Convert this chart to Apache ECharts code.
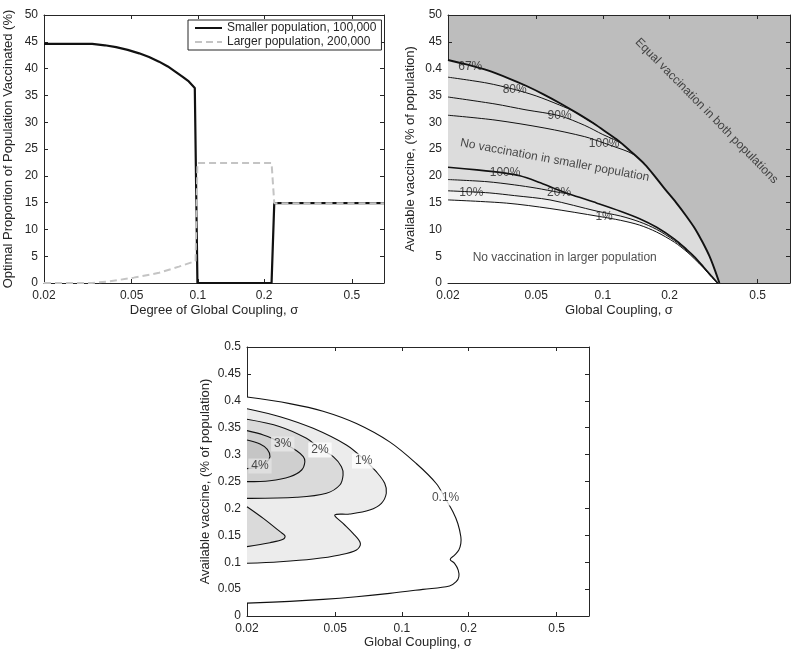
<!DOCTYPE html>
<html><head><meta charset="utf-8">
<script src="https://cdn.jsdelivr.net/npm/echarts@6/dist/echarts.min.js"></script>
<style>html,body{margin:0;padding:0;background:#fff}#c{width:792px;height:660px}</style>
</head><body><div id="c"></div>
<script>
// ---------- shared axis data ----------
const sigmaMin = 0.02, sigmaMax = 0.7;
const xTickValues = [0.02, 0.05, 0.1, 0.2, 0.5];
const xTickLabels = ['0.02', '0.05', '0.1', '0.2', '0.5'];

// ---------- panel A: optimal proportion vaccinated ----------
const p1YTickValues = [0, 5, 10, 15, 20, 25, 30, 35, 40, 45, 50];
const p1YTickLabels = ['0', '5', '10', '15', '20', '25', '30', '35', '40', '45', '50'];
const smallerSigma = [0.02, 0.0331, 0.0378, 0.0425, 0.048, 0.0541, 0.06, 0.0666, 0.073, 0.0792, 0.085, 0.0909, 0.0968, 0.0995, 0.216, 0.2222, 0.7];
const smallerPct   = [44.6, 44.6,   44.35,  44.0,   43.5,  42.85,  42.15, 41.3,   40.4,  39.4,   38.5,  37.6,   36.4,   0,      0,     14.9,   14.9];
const largerSigma  = [0.02, 0.033, 0.0396, 0.0511, 0.0666, 0.082, 0.0976, 0.0995, 0.216, 0.2222, 0.7];
const largerPct    = [0,    0,     0.3,    1.0,    1.9,    3.05,  4.1,    22.4,   22.4,  14.9,   14.9];
const seriesNames = ['Smaller population, 100,000', 'Larger population, 200,000'];

// ---------- panel B: vaccine split regions ----------
const p2YTickValues = [0, 5, 10, 15, 20, 25, 30, 35, 40, 45, 50];
const p2YTickLabels = ['0', '5', '10', '15', '20', '25', '30', '35', '0.4', '45', '50'];
const p2Boundary67 = [[0.02,41.6],[0.0252,40.6],[0.03,39.7],[0.038,38.1],[0.045,36.8],[0.054,35.2],[0.065,33.4],[0.0765,31.7],[0.09,29.9],[0.1,28.6],[0.118,26.5],[0.135,24.4],[0.155,22.1],[0.1711,20.0],[0.19,17.6],[0.2143,15.0],[0.238,12.5],[0.262,10.0],[0.283,7.5],[0.303,5.0],[0.32,2.5],[0.336,0]];
const p2Upper80 = [[0.02,38.4],[0.03,37.3],[0.04,36.1],[0.05,34.9],[0.0638,33.2],[0.075,31.9],[0.085,30.5],[0.092,29.7]];
const p2Upper90 = [[0.02,34.7],[0.0326,33.4],[0.045,32.3],[0.0638,31.2],[0.0829,29.4],[0.1,27.7],[0.112,26.8],[0.122,26.0]];
const p2Upper100 = [[0.02,31.3],[0.0326,30.4],[0.0548,28.9],[0.0829,27.3],[0.1014,26.1],[0.117,25.2],[0.13,24.5],[0.14,23.8]];
const p2Lower100 = [[0.02,21.6],[0.027,21.1],[0.0362,20.5],[0.0422,20.0],[0.05,19.0],[0.06,17.7],[0.0706,16.6],[0.0941,14.9],[0.12,13.4],[0.1466,12.0],[0.175,10.4],[0.2107,8.2],[0.24,6.2],[0.2593,4.9],[0.285,3.0],[0.308,1.4],[0.33,0]];
const p2Lower20 = [[0.02,19.3],[0.03,18.9],[0.04,18.3],[0.05,17.7],[0.0635,16.9],[0.0706,16.6]];
const p2Lower10 = [[0.02,17.2],[0.0255,17.0],[0.0309,16.8],[0.04,16.3],[0.0577,15.5],[0.0941,13.4],[0.12,12.5],[0.1466,11.4],[0.175,10.0],[0.2107,7.9],[0.24,6.0],[0.2593,4.7],[0.285,2.9],[0.308,1.3],[0.33,0]];
const p2Lower1 = [[0.02,15.5],[0.0368,14.9],[0.0577,13.9],[0.0967,12.4],[0.12,11.7],[0.1466,10.8],[0.175,9.5],[0.2107,7.6],[0.24,5.8],[0.2593,4.5],[0.285,2.8],[0.308,1.2],[0.33,0]];
const p2ContourLabels = [['67%',0.0252,40.4],['80%',0.04,36.1],['90%',0.0638,31.2],['100%',0.1014,25.9],['100%',0.0362,20.5],['20%',0.0635,16.85],['10%',0.0255,16.8],['1%',0.1013,12.4]];
const p2RegionLabels = [['No vaccination in smaller population',0.0607,22.9,-10.5],['Equal vaccination in both populations',0.294,32.1,-45.5],['No vaccination in larger population',0.0673,4.66,0]];

// ---------- panel C: contours ----------
const p3YTickValues = [0, 0.05, 0.1, 0.15, 0.2, 0.25, 0.3, 0.35, 0.4, 0.45, 0.5];
const p3YTickLabels = ['0', '0.05', '0.1', '0.15', '0.2', '0.25', '0.3', '0.35', '0.4', '0.45', '0.5'];
const p3Contour01 = [[0.02,0.407],[0.0312,0.3948],[0.0441,0.3806],[0.0624,0.3577],[0.0881,0.3236],[0.1162,0.2834],[0.143,0.2463],[0.1571,0.2184],[0.1701,0.1937],[0.179,0.172],[0.1847,0.1473],[0.1847,0.1349],[0.1809,0.1225],[0.173,0.1132],[0.1654,0.1052],[0.173,0.0978],[0.1797,0.0854],[0.1809,0.073],[0.176,0.0637],[0.1642,0.0557],[0.1245,0.0495],[0.0881,0.0421],[0.0624,0.0359],[0.0441,0.0309],[0.0312,0.0272],[0.02,0.0240]];
const p3Contour1 = [[0.02,0.3853],[0.0282,0.3705],[0.0398,0.3488],[0.0562,0.3178],[0.068,0.29],[0.0767,0.2682],[0.0837,0.2466],[0.0851,0.2281],[0.0809,0.2095],[0.0716,0.197],[0.0582,0.1896],[0.0498,0.1877],[0.0543,0.1723],[0.0602,0.1537],[0.065,0.1351],[0.0624,0.1227],[0.0525,0.1134],[0.0398,0.1059],[0.0282,0.1009],[0.02,0.098]];
const p3Contour2 = [[0.02,0.3656],[0.0282,0.3519],[0.0371,0.3302],[0.0432,0.3098],[0.049,0.2962],[0.0534,0.2776],[0.0543,0.2621],[0.0525,0.2435],[0.0457,0.2281],[0.0335,0.2206],[0.02,0.2187]];
const p3Contour2b = [[0.02,0.2032],[0.0237,0.1815],[0.0282,0.1567],[0.0297,0.1487],[0.0291,0.1425],[0.0254,0.1363],[0.02,0.1289]];
const p3Contour3 = [[0.02,0.3445],[0.0237,0.3364],[0.0291,0.321],[0.0335,0.3073],[0.0359,0.2962],[0.0365,0.2868],[0.0353,0.2714],[0.0312,0.2589],[0.0254,0.2515],[0.02,0.2497]];
const p3Contour4 = [[0.02,0.3271],[0.0229,0.3197],[0.0247,0.3098],[0.0254,0.2962],[0.0244,0.2851],[0.0225,0.2776],[0.02,0.2739]];
const p3Labels = [['0.1%',0.1576,0.2193,'#ffffff'],['1%',0.0673,0.288,'#ffffff'],['2%',0.0427,0.3086,'#ffffff'],['3%',0.029,0.3197,'#e8e8e8'],['4%',0.0229,0.2788,'#e2e2e2']];

// ---------- helpers ----------
const L = Math.log10;
const FONT = '"Liberation Sans", Arial, Helvetica, sans-serif';
const INK = '#262626';
function pick(vals, labels) {
  return v => { let bi = 0, bd = Infinity; vals.forEach((t, i) => { const d = Math.abs(t - v); if (d < bd) { bd = d; bi = i; } }); return labels[bi]; };
}
const xLogTicks = xTickValues.map(L);
function xAx(grid, pos, name, gap) {
  const show = pos === 'bottom';
  return {
    type: 'value', gridIndex: grid, position: pos, min: L(sigmaMin), max: L(sigmaMax),
    name: show ? name : '', nameLocation: 'middle', nameGap: gap,
    nameTextStyle: { fontFamily: FONT, fontSize: 13, color: INK },
    axisLine: { show: true, onZero: false, lineStyle: { color: INK, width: 1 } },
    axisTick: { show: true, inside: true, length: 4, customValues: xLogTicks, lineStyle: { color: INK } },
    axisLabel: { show, customValues: xLogTicks, margin: 7, fontFamily: FONT, fontSize: 12, color: INK, formatter: pick(xLogTicks, xTickLabels) },
    splitLine: { show: false }
  };
}
function yAx(grid, pos, name, gap, vals, labels) {
  const show = pos === 'left';
  const step = vals[1] - vals[0];
  return {
    type: 'value', gridIndex: grid, position: pos, min: vals[0], max: vals[vals.length - 1], interval: step,
    name: show ? name : '', nameLocation: 'middle', nameGap: gap,
    nameTextStyle: { fontFamily: FONT, fontSize: 13, color: INK },
    axisLine: { show: true, onZero: false, lineStyle: { color: INK, width: 1 } },
    axisTick: { show: true, inside: true, length: 4, lineStyle: { color: INK } },
    axisLabel: { show, margin: 6, fontFamily: FONT, fontSize: 12, color: INK, formatter: pick(vals, labels) },
    splitLine: { show: false }
  };
}
const toXY = pts => pts.map(p => [L(p[0]), p[1]]);
const zipXY = (xs, ys) => xs.map((x, i) => [L(x), ys[i]]);
const SMOOTH = 0.3;

function areaSeries(pts, color, gi) {
  return { type: 'line', xAxisIndex: gi, yAxisIndex: gi, data: toXY(pts), symbol: 'none', silent: true, smooth: SMOOTH,
    lineStyle: { opacity: 0 }, areaStyle: { color, opacity: 1 }, z: 1 };
}
function lineSeries(pts, width, gi) {
  return { type: 'line', xAxisIndex: gi, yAxisIndex: gi, data: toXY(pts), symbol: 'none', silent: true, smooth: SMOOTH,
    lineStyle: { color: '#111', width }, z: 2 };
}
// closed contour against the left axis: filled smooth polyline (fill closes along the axis, stroke does not)
function polySeries(pts, fill, gi) {
  const data = toXY(pts);
  return { type: 'custom', xAxisIndex: gi, yAxisIndex: gi, data, silent: true, z: 2,
    renderItem: (params, api) => {
      if (params.dataIndex !== 0) return null;
      return { type: 'polyline', shape: { points: data.map(p => api.coord(p)), smooth: 0.35 },
        style: { fill, stroke: '#111', lineWidth: 1.1 } };
    } };
}

const chart = echarts.init(document.getElementById('c'), null, { renderer: 'canvas' });

const p20Full = p2Lower20.concat(p2Lower100.filter(p => p[0] > 0.0706));

chart.setOption({
  animation: false,
  backgroundColor: '#ffffff',
  textStyle: { fontFamily: FONT },
  grid: [
    { left: 44, top: 15, width: 340, height: 268 },
    { left: 448, top: 15, width: 342, height: 268, show: true, backgroundColor: '#bdbdbd', borderWidth: 0 },
    { left: 247, top: 347, width: 342, height: 269 }
  ],
  legend: {
    data: seriesNames, left: 188, top: 20, orient: 'vertical', itemGap: 2, itemWidth: 27, itemHeight: 12,
    padding: [2, 5, 2, 6], borderColor: INK, borderWidth: 1, backgroundColor: '#fff',
    itemStyle: { opacity: 0 },
    textStyle: { fontFamily: FONT, fontSize: 12, color: INK }
  },
  xAxis: [
    xAx(0, 'bottom', 'Degree of Global Coupling, \u03c3', 21), xAx(0, 'top', '', 0),
    xAx(1, 'bottom', 'Global Coupling, \u03c3', 21), xAx(1, 'top', '', 0),
    xAx(2, 'bottom', 'Global Coupling, \u03c3', 19), xAx(2, 'top', '', 0)
  ],
  yAxis: [
    yAx(0, 'left', 'Optimal Proportion of Population Vaccinated (%)', 29, p1YTickValues, p1YTickLabels), yAx(0, 'right', '', 0, p1YTickValues, p1YTickLabels),
    yAx(1, 'left', 'Available vaccine, (% of population)', 31, p2YTickValues, p2YTickLabels), yAx(1, 'right', '', 0, p2YTickValues, p2YTickLabels),
    yAx(2, 'left', 'Available vaccine, (% of population)', 35, p3YTickValues, p3YTickLabels), yAx(2, 'right', '', 0, p3YTickValues, p3YTickLabels)
  ],
  series: [
    // panel A
    { type: 'line', name: seriesNames[0], xAxisIndex: 0, yAxisIndex: 0, data: zipXY(smallerSigma, smallerPct),
      symbol: 'none', lineStyle: { color: '#111', width: 2.2 }, itemStyle: { color: '#111' }, z: 3 },
    { type: 'line', name: seriesNames[1], xAxisIndex: 0, yAxisIndex: 0, data: zipXY(largerSigma, largerPct),
      symbol: 'none', lineStyle: { color: '#c4c4c4', width: 2, type: [7, 4] }, itemStyle: { color: '#c4c4c4' }, z: 4 },
    // panel B fills
    areaSeries(p2Boundary67, '#dcdcdc', 2),
    areaSeries(p20Full, '#e6e6e6', 2),
    areaSeries(p2Lower10, '#f2f2f2', 2),
    areaSeries(p2Lower1, '#ffffff', 2),
    // panel B lines
    lineSeries(p2Upper80, 1, 2), lineSeries(p2Upper90, 1, 2), lineSeries(p2Upper100, 1, 2),
    lineSeries(p2Lower20, 1, 2), lineSeries(p2Lower10, 1, 2), lineSeries(p2Lower1, 1, 2),
    lineSeries(p2Lower100, 1.6, 2), lineSeries(p2Boundary67, 1.9, 2),
    { type: 'scatter', xAxisIndex: 2, yAxisIndex: 2, silent: true, z: 5, symbolSize: 1, itemStyle: { color: 'rgba(0,0,0,0)' },
      data: p2ContourLabels.map(d => [L(d[1]), d[2], d[0]]),
      label: { show: true, position: 'inside', formatter: p => p.data[2], fontFamily: FONT, fontSize: 12, color: '#222' } },
    { type: 'scatter', xAxisIndex: 2, yAxisIndex: 2, silent: true, z: 5, symbolSize: 1, itemStyle: { color: 'rgba(0,0,0,0)' },
      data: p2RegionLabels.map(d => ({ value: [L(d[1]), d[2], d[0]], label: { rotate: d[3] } })),
      label: { show: true, position: 'inside', formatter: p => p.data.value[2], fontFamily: FONT, fontSize: 12, color: '#222' } },
    // panel C
    polySeries(p3Contour01, '#ffffff', 4),
    polySeries(p3Contour1, '#ececec', 4),
    polySeries(p3Contour2, '#dadada', 4),
    polySeries(p3Contour2b, '#dadada', 4),
    polySeries(p3Contour3, '#cfcfcf', 4),
    polySeries(p3Contour4, '#c5c5c5', 4),
    { type: 'scatter', xAxisIndex: 4, yAxisIndex: 4, silent: true, z: 5, symbolSize: 1, itemStyle: { color: 'rgba(0,0,0,0)' },
      data: p3Labels.map(d => ({ value: [L(d[1]), d[2], d[0]], label: { backgroundColor: d[3] } })),
      label: { show: true, position: 'inside', formatter: p => p.data.value[2], fontFamily: FONT, fontSize: 12, color: '#222', padding: [2, 3, 1, 3] } }
  ]
});
</script></body></html>
